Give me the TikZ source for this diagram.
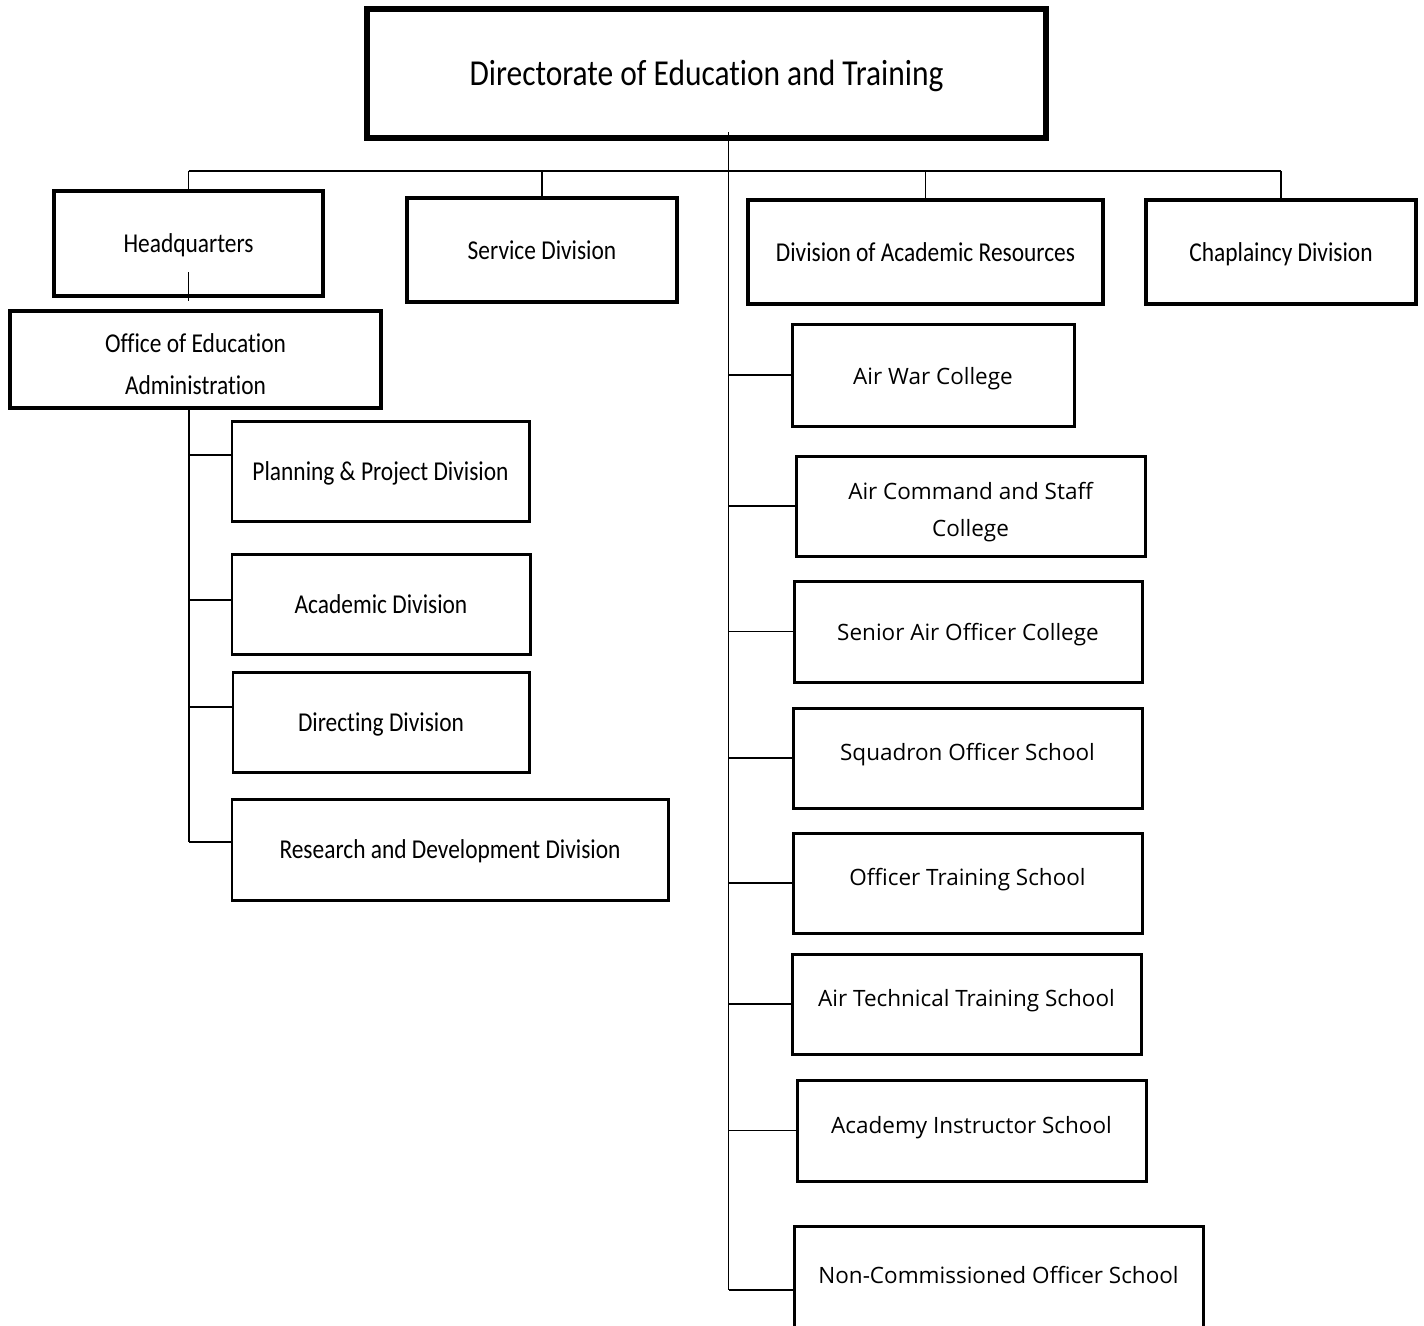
\documentclass[tikz,border=0pt]{standalone}
\usepackage{fontspec}
\setmainfont{Carlito}[FakeStretch=0.86, Ligatures=NoCommon]
\newfontfamily\schoolfamily{Open Sans}
\newcommand\titlefont{\fontsize{10.4}{12.5}\selectfont}
\newcommand\unitfont{\fontsize{7.75}{12}\selectfont}
\newcommand\schoolfont{\schoolfamily\fontsize{6.4}{10.5}\selectfont}
\newcommand\downstrut{\rule{0pt}{0.29cm}}
\tikzset{unit/.style={draw, anchor=north west, inner sep=0pt, outer sep=0pt,
         line width=0.85pt, font=\unitfont},
         box/.style={unit, text height=1.5ex, text depth=0.4ex, minimum height=1cm},
         headbox/.style={box, line width=1.4pt, minimum height=1.04cm},
         school/.style={box, font=\schoolfont},
         lift/.style={text depth=#1},
         conn/.style={line width=0.55pt}}

\begin{document}
\begin{tikzpicture}
\useasboundingbox (0,0) rectangle (14.24,-13.25);

% top
\node[box, line width=1.7pt, font=\titlefont, text height=1.85ex, minimum width=6.79cm, minimum height=1.29cm] (det) at (3.67,-0.09) {Directorate of Education and Training};

% second level
\node[headbox, minimum width=2.69cm, minimum height=1.05cm] (hq) at (0.54,-1.91) {Headquarters};
\node[headbox, minimum width=2.70cm] (serv) at (4.07,-1.98) {Service Division};
\node[headbox, minimum width=3.55cm] (dar) at (7.48,-2.00) {Division of Academic Resources};
\node[headbox, minimum width=2.70cm] (chap) at (11.46,-2.00) {Chaplaincy Division};

\node[unit, line width=1.1pt, align=center, minimum width=3.71cm, minimum height=0.97cm] (oea) at (0.10,-3.11) {\downstrut Office of Education\\Administration};

% under the office
\node[box, minimum width=2.97cm] (plan) at (2.32,-4.21) {Planning \& Project Division};
\node[box, minimum width=2.98cm] (acad) at (2.32,-5.54) {Academic Division};
\node[box, minimum width=2.96cm] (dirc) at (2.33,-6.72) {Directing Division};
\node[box, minimum width=4.36cm, minimum height=1.01cm] (rnd) at (2.32,-7.99) {Research and Development Division};

% schools
\node[school, minimum width=2.82cm, minimum height=1.02cm] (awc) at (7.92,-3.24) {Air War College};
\node[unit, font=\schoolfont, align=center, minimum width=3.49cm, minimum height=1cm] (acsc) at (7.96,-4.56) {\downstrut Air Command and Staff\\College};
\node[school, minimum width=3.48cm, minimum height=1.01cm] (saoc) at (7.94,-5.81) {Senior Air Officer College};
\node[school, lift=0.21cm, minimum width=3.49cm] (sos) at (7.93,-7.08) {Squadron Officer School};
\node[school, lift=0.21cm, minimum width=3.49cm] (ots) at (7.93,-8.33) {Officer Training School};
\node[school, lift=0.21cm, minimum width=3.49cm] (atts) at (7.92,-9.54) {Air Technical Training School};
\node[school, lift=0.2cm, minimum width=3.49cm, minimum height=1.01cm] (ais) at (7.97,-10.80) {Academy Instructor School};
\node[school, lift=0.39cm, minimum width=4.09cm, minimum height=1.28cm] (nco) at (7.94,-12.26) {Non-Commissioned Officer School};

% lines
\coordinate (bar) at (0,-1.71);
\coordinate (rtop) at (7.285,-1.32);
\coordinate (ltop) at (1.89,-4.08);
\draw[conn] (hq.north |- bar) -- (chap.north |- bar);
\foreach \u in {hq,serv,dar,chap}
  \draw[conn] (\u.north |- bar) -- (\u.north);
\draw[conn] ([yshift=2.4mm]hq.south) -- ([yshift=1mm]oea.north -| hq.south);

\draw[conn] (rtop) -- (nco.west -| rtop);
\foreach \u in {awc,acsc,saoc,sos,ots,atts,ais,nco}
  \draw[conn] (\u.west -| rtop) -- (\u.west);

\draw[conn] (ltop) -- ([yshift=0.75mm]rnd.west -| ltop);
\foreach \u/\dy in {plan/1.6,acad/0.4,dirc/1.5,rnd/0.75}
  \draw[conn] ([yshift=\dy mm]\u.west -| ltop) -- ([yshift=\dy mm]\u.west);

\end{tikzpicture}
\end{document}
